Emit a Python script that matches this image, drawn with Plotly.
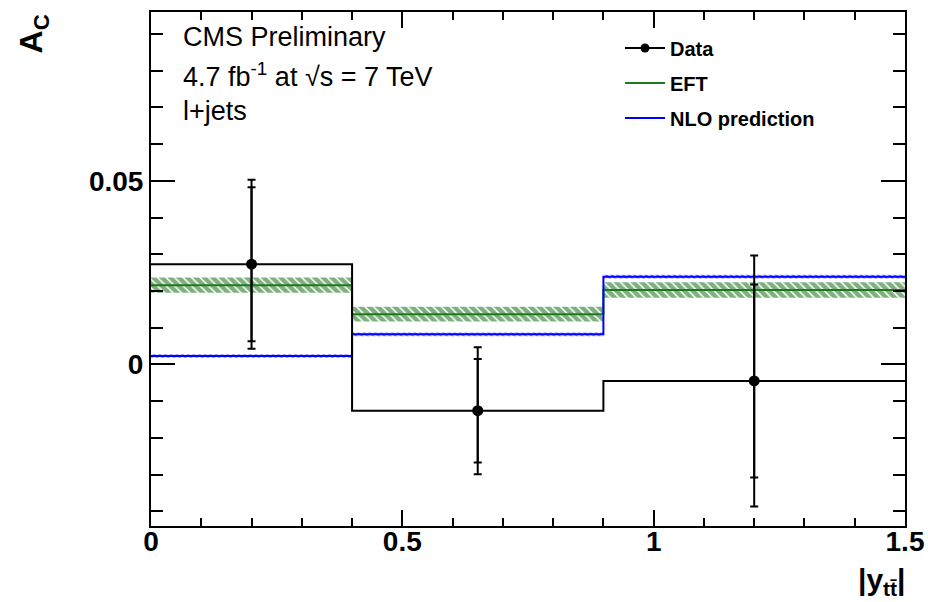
import plotly.graph_objects as go

# ---- data ----
bin_edges = [0.0, 0.4, 0.9, 1.5]
bin_centers = [0.2, 0.65, 1.2]
data_ac = [0.0273, -0.0126, -0.0045]
data_stat = [0.0210, 0.0141, 0.0263]
data_total = [0.0230, 0.0173, 0.0342]
eft_ac = [0.0216, 0.0137, 0.0203]
eft_err = [0.0021, 0.0020, 0.0021]
nlo_ac = [0.0023, 0.0082, 0.0239]
nlo_err = [0.0005, 0.0005, 0.0005]

GREEN = "#1f7a1f"
HATCH_GREEN = "#006000"
BLUE = "#0000ff"
FONT = "Liberation Sans, Arial, sans-serif"


def steps(vals):
    # step curve over bin edges (hv shape): repeat last value at right edge
    return list(vals) + [vals[-1]]


fig = go.Figure()

# EFT band (hatched)
fig.add_trace(go.Scatter(
    x=bin_edges, y=steps([v - e for v, e in zip(eft_ac, eft_err)]),
    mode="lines", line=dict(width=0, shape="hv", color=GREEN),
    showlegend=False, hoverinfo="skip"))
fig.add_trace(go.Scatter(
    x=bin_edges, y=steps([v + e for v, e in zip(eft_ac, eft_err)]),
    mode="lines", line=dict(width=0, shape="hv", color=GREEN),
    fill="tonexty", fillcolor="rgba(0,0,0,0)",
    fillpattern=dict(shape="\\", fgcolor=HATCH_GREEN, bgcolor="rgba(0,0,0,0)",
                     size=6, solidity=0.75),
    showlegend=False, hoverinfo="skip"))

# NLO band (thin hatched)
fig.add_trace(go.Scatter(
    x=bin_edges, y=steps([v - e for v, e in zip(nlo_ac, nlo_err)]),
    mode="lines", line=dict(width=0, shape="hv", color=BLUE),
    showlegend=False, hoverinfo="skip"))
fig.add_trace(go.Scatter(
    x=bin_edges, y=steps([v + e for v, e in zip(nlo_ac, nlo_err)]),
    mode="lines", line=dict(width=0, shape="hv", color=BLUE),
    fill="tonexty", fillcolor="rgba(0,0,0,0)",
    fillpattern=dict(shape="\\", fgcolor=BLUE, bgcolor="rgba(0,0,0,0)",
                     size=4, solidity=0.6),
    showlegend=False, hoverinfo="skip"))

# central lines
fig.add_trace(go.Scatter(
    x=bin_edges, y=steps(eft_ac), mode="lines",
    line=dict(width=2, shape="hv", color=GREEN),
    showlegend=False, hoverinfo="skip"))
fig.add_trace(go.Scatter(
    x=bin_edges, y=steps(nlo_ac), mode="lines",
    line=dict(width=2, shape="hv", color=BLUE),
    showlegend=False, hoverinfo="skip"))

# data step histogram
fig.add_trace(go.Scatter(
    x=bin_edges, y=steps(data_ac), mode="lines",
    line=dict(width=2, shape="hv", color="black"),
    showlegend=False, hoverinfo="skip"))

# data points: total and stat error bars
fig.add_trace(go.Scatter(
    x=bin_centers, y=data_ac, mode="markers",
    marker=dict(size=11, color="black"),
    error_y=dict(type="data", array=data_total, color="black",
                 thickness=2, width=4),
    showlegend=False))
fig.add_trace(go.Scatter(
    x=bin_centers, y=data_ac, mode="markers",
    marker=dict(size=1, color="rgba(0,0,0,0)"),
    error_y=dict(type="data", array=data_stat, color="black",
                 thickness=2, width=4),
    showlegend=False, hoverinfo="skip"))

# legend entries
fig.add_trace(go.Scatter(
    x=[None], y=[None], mode="lines+markers", name="<b>Data</b>",
    line=dict(color="black", width=2), marker=dict(size=9, color="black"),
    legendgroup="a"))
fig.add_trace(go.Scatter(
    x=[None], y=[None], mode="lines", name="<b>EFT</b>",
    line=dict(color=GREEN, width=2), legendgroup="b"))
fig.add_trace(go.Scatter(
    x=[None], y=[None], mode="lines", name="<b>NLO prediction</b>",
    line=dict(color=BLUE, width=2), legendgroup="c"))

axis_common = dict(
    showline=True, linewidth=2, linecolor="black", mirror="allticks",
    ticks="inside", tickwidth=2, tickcolor="black",
    showgrid=False, zeroline=False, automargin=False,
    tickfont=dict(family=FONT, size=28, color="black", weight="bold"),
)

fig.update_xaxes(
    range=[0, 1.5], tickvals=[0, 0.5, 1, 1.5], ticktext=["0", "0.5", "1", "1.5"],
    ticklen=16, ticklabelstandoff=-11,
    minor=dict(ticks="inside", dtick=0.1, tick0=0, ticklen=8, tickwidth=2,
               tickcolor="black", showgrid=False),
    **axis_common)
fig.update_yaxes(
    range=[-0.044, 0.096], ticklen=24,
    tickvals=[0, 0.05], ticktext=["0", "0.05"],
    minor=dict(ticks="inside", dtick=0.01, tick0=0, ticklen=12, tickwidth=2,
               tickcolor="black", showgrid=False),
    **axis_common)

text_font = dict(family=FONT, size=27, color="black")
annotations = [
    dict(text="CMS Preliminary", x=0.040, y=0.951),
    dict(text="4.7 fb<sup>-1</sup> at √s = 7 TeV", x=0.040, y=0.877),
    dict(text="l+jets", x=0.040, y=0.807),
]
for a in annotations:
    fig.add_annotation(xref="paper", yref="paper", xanchor="left",
                       yanchor="middle", showarrow=False, font=text_font, **a)

fig.add_annotation(
    xref="paper", yref="paper", x=-0.156, y=0.957, xanchor="center",
    yanchor="middle", textangle=-90, showarrow=False,
    text="<b>A<sub>C</sub></b>",
    font=dict(family=FONT, size=32, color="black"))
fig.add_annotation(
    xref="paper", yref="paper", x=1.003, y=-0.147, xanchor="right",
    yanchor="bottom", showarrow=False,
    text="<b>|y<sub>tt̄</sub>|</b>",
    font=dict(family=FONT, size=30, color="black"))

fig.update_layout(
    width=928, height=602,
    margin=dict(l=151, r=23, t=12, b=76),
    paper_bgcolor="white", plot_bgcolor="white",
    showlegend=True,
    legend=dict(x=0.622, y=0.968, xanchor="left", yanchor="top",
                bgcolor="rgba(0,0,0,0)", borderwidth=0,
                font=dict(family=FONT, size=20, color="black"),
                tracegroupgap=6, itemwidth=40),
)

fig.write_html("out.html")
